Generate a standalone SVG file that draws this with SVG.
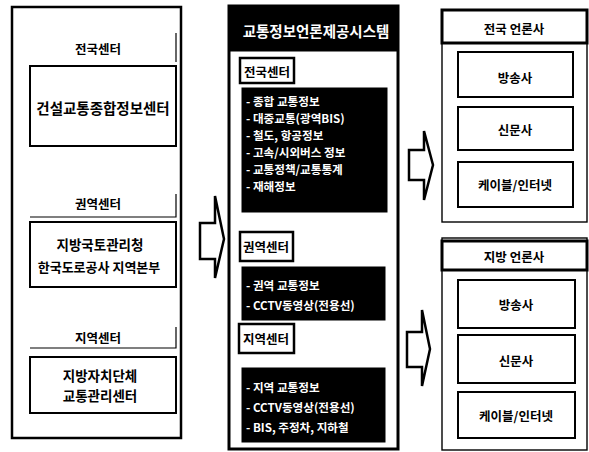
<svg xmlns="http://www.w3.org/2000/svg" width="589" height="452" viewBox="0 0 589 452">
<style>
text{font-family:"Noto Sans CJK KR","Noto Sans",sans-serif;font-weight:700;fill:#000;text-anchor:middle;dominant-baseline:central}
.box{fill:#fff;stroke:#000;stroke-width:2}
.thin{fill:#fff;stroke:#000;stroke-width:1.4}
.lbl{fill:#fff;stroke:#000;stroke-width:2.5}
.blk{fill:#000;stroke:#000}
.wt{fill:#fff;text-anchor:start;font-size:11.6px}
.arrow{fill:#fff;stroke:#000;stroke-width:2.5;stroke-linejoin:miter}
.br{fill:none;stroke:#000;stroke-width:1.2}
</style>
<g id="left-panel">
<rect x="12" y="7" width="169" height="431" fill="#fff" stroke="#000" stroke-width="2.5"/>
<g id="label-national">
<path class="br" d="M176 33 V62"/>
<text x="98" y="48" font-size="12.5">전국센터</text>
</g>
<g id="node-moct">
<rect class="box" x="30" y="66" width="146" height="80"/>
<text x="103" y="107" font-size="14.5">건설교통종합정보센터</text>
</g>
<g id="label-regional">
<path class="br" d="M176 194 V217 H30"/>
<text x="98" y="203" font-size="12.5">권역센터</text>
</g>
<g id="node-regional">
<rect class="box" x="30" y="222" width="146" height="65"/>
<text x="100" y="244" font-size="13.5">지방국토관리청</text>
<text x="99" y="266" font-size="13">한국도로공사 지역본부</text>
</g>
<g id="label-local">
<path class="br" d="M176 327 V348 H30"/>
<text x="98" y="337" font-size="12.5">지역센터</text>
</g>
<g id="node-local">
<rect class="box" x="30" y="357" width="146" height="56"/>
<text x="100" y="375" font-size="13.5">지방자치단체</text>
<text x="100" y="395" font-size="13.5">교통관리센터</text>
</g>
</g>
<g id="middle-panel">
<rect x="229" y="6" width="169" height="443" fill="#fff" stroke="#000" stroke-width="3"/>
<rect class="blk" x="229" y="6" width="169" height="45"/>
<text x="316" y="30" font-size="14.5" style="fill:#fff">교통정보언론제공시스템</text>
<g id="mid-national">
<rect class="lbl" x="240" y="58" width="54" height="25"/>
<text x="267" y="71" font-size="12.5">전국센터</text>
<rect class="blk" x="242" y="88" width="145" height="124"/>
<text class="wt" x="246" y="101">- 종합 교통정보</text>
<text class="wt" x="246" y="118">- 대중교통(광역BIS)</text>
<text class="wt" x="246" y="135">- 철도, 항공정보</text>
<text class="wt" x="246" y="152">- 고속/시외버스 정보</text>
<text class="wt" x="246" y="169">- 교통정책/교통통계</text>
<text class="wt" x="246" y="186">- 재해정보</text>
</g>
<g id="mid-regional">
<rect class="lbl" x="240" y="232" width="53" height="29"/>
<text x="266" y="246" font-size="12.5">권역센터</text>
<rect class="blk" x="242" y="267" width="143" height="53"/>
<text class="wt" x="246" y="285">- 권역 교통정보</text>
<text class="wt" x="246" y="305">- CCTV동영상(전용선)</text>
</g>
<g id="mid-local">
<rect class="lbl" x="239" y="324" width="55" height="29"/>
<text x="266" y="338" font-size="12.5">지역센터</text>
<rect class="blk" x="242" y="368" width="143" height="74"/>
<text class="wt" x="246" y="387">- 지역 교통정보</text>
<text class="wt" x="246" y="407">- CCTV동영상(전용선)</text>
<text class="wt" x="246" y="427">- BIS, 주정차, 지하철</text>
</g>
</g>
<g id="right-national">
<rect class="thin" x="442" y="10" width="145" height="212"/>
<rect x="442" y="10" width="145" height="33" fill="#fff" stroke="#000" stroke-width="3"/>
<text x="514" y="28" font-size="12.5">전국 언론사</text>
<rect class="box" x="458" y="52" width="115" height="45"/>
<text x="515" y="77" font-size="12.5">방송사</text>
<rect class="box" x="458" y="107" width="115" height="43"/>
<text x="515" y="129" font-size="12.5">신문사</text>
<rect class="box" x="458" y="162" width="115" height="45"/>
<text x="515" y="184" font-size="12.5">케이블/인터넷</text>
</g>
<g id="right-local">
<rect class="thin" x="442" y="238" width="145" height="212"/>
<rect x="442" y="241" width="145" height="29" fill="#fff" stroke="#000" stroke-width="3"/>
<text x="514" y="256" font-size="12.5">지방 언론사</text>
<rect class="box" x="458" y="280" width="117" height="48"/>
<text x="516" y="304" font-size="12.5">방송사</text>
<rect class="box" x="458" y="335" width="117" height="48"/>
<text x="516" y="360" font-size="12.5">신문사</text>
<rect class="box" x="458" y="392" width="117" height="46"/>
<text x="516" y="415" font-size="12.5">케이블/인터넷</text>
</g>
<g id="connectors">
<polygon class="arrow" points="200,223 215,223 215,196 224,239 215,278 215,259 200,259"/>
<polygon class="arrow" points="409,150 424,150 424,131 433,165 424,200 424,180 409,180"/>
<polygon class="arrow" points="407,332 422,332 422,310 430,349 422,386 422,367 407,367"/>
</g>
</svg>
